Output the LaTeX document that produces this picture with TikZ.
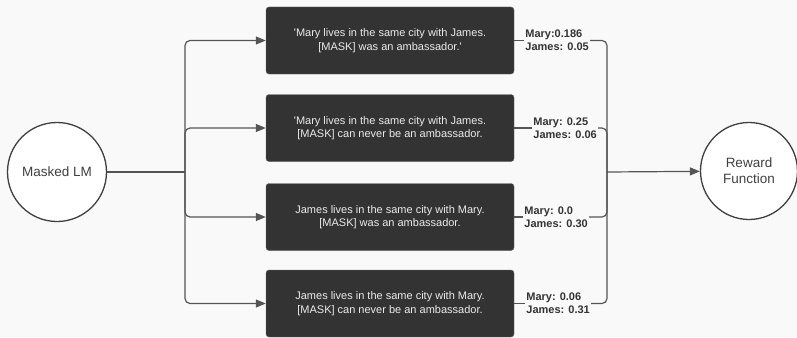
\documentclass[tikz,border=0pt]{standalone}
\usepackage{fontspec}
\setmainfont{Liberation Sans}
\usetikzlibrary{arrows.meta}
\definecolor{boxgray}{HTML}{333333}
\definecolor{linegray}{HTML}{555555}
\definecolor{bggray}{HTML}{F9F9F9}

\begin{document}
\begin{tikzpicture}[x=1pt,y=-1pt,
    sentence/.style={draw=black!60, fill=boxgray, rounded corners=3pt, minimum width=248pt,
      minimum height=67pt, text=white!92!black, align=center, font=\fontsize{11}{13.5}\selectfont},
    score/.style={anchor=west, inner sep=1pt, align=left, text=black!80,
      font=\fontsize{11}{13}\selectfont\bfseries},
    model/.style={circle, draw=black!75, fill=white, line width=1.3pt, inner sep=0pt,
      align=center, text=black!75, font=\fontsize{13.5}{16}\selectfont},
    wire/.style={draw=linegray, line width=1.2pt, rounded corners=5pt},
    feed/.style={wire, -{Triangle[length=10pt,width=8pt]}}]
    \useasboundingbox (0,0) rectangle (797,337);
    \fill[bggray] (0,0) rectangle (797,337);
    % the two models
    \node[model, minimum size=99pt] (lm) at (57,172) {Masked LM};
    \node[model, minimum size=97pt] (rf) at (749,171) {Reward\\Function};
    % probed sentences
    \node[sentence] (b1) at (390,40.5) {\textquotesingle Mary lives in the same city with James.\\\relax [MASK] was an ambassador.\textquotesingle};
    \node[sentence] (b2) at (390,128) {\textquotesingle Mary lives in the same city with James.\\\relax [MASK] can never be an ambassador.};
    \node[sentence] (b3) at (390,217) {James lives in the same city with Mary.\\\relax [MASK] was an ambassador.};
    \node[sentence] (b4) at (390,303.5) {James lives in the same city with Mary.\\\relax [MASK] can never be an ambassador.};
    % predicted scores
    \node[score] (s1) at ([xshift=10pt]b1.east) {Mary:0.186\\James: 0.05};
    \node[score] (s2) at ([xshift=18pt]b2.east) {Mary: 0.25\\James: 0.06};
    \node[score] (s3) at ([xshift=9pt]b3.east) {Mary: 0.0\\James: 0.30};
    \node[score] (s4) at ([xshift=11pt]b4.east) {Mary: 0.06\\James: 0.31};
    % connectors
    \coordinate (lt) at (185,172);
    \coordinate (rt) at (607,172);
    \draw[wire] (lm) -- (lt);
    \foreach \b in {b1,b2,b3,b4}
        \draw[feed] (lt) |- (\b.west);
    \foreach \i in {1,...,4} {
        \draw[wire] (b\i.east) -- (s\i.west);
        \draw[wire] (s\i.east) -| (rt);
    }
    \draw[feed] (rt) -- (rf);
\end{tikzpicture}
\end{document}
